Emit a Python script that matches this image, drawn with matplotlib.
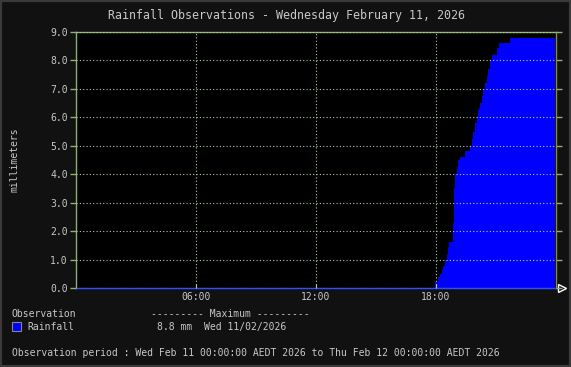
#!/usr/bin/env python3
"""Rainfall observations for one day, drawn as a cumulative step fill."""

import matplotlib
matplotlib.use("Agg")
import matplotlib.pyplot as plt
from matplotlib.patches import Rectangle

# cumulative rainfall (mm) against hour of day
hours = [0.0, 17.95, 18.12, 18.2, 18.28, 18.37, 18.45, 18.53, 18.62, 18.67,
         18.87, 18.9, 18.95, 19.03, 19.12, 19.2, 19.45, 19.7, 19.78, 19.87,
         19.95, 20.03, 20.12, 20.2, 20.28, 20.37, 20.45, 20.53, 20.62, 20.7,
         20.78, 21.03, 21.15, 21.7, 23.95]
rain = [0.0, 0.2, 0.37, 0.5, 0.63, 0.78, 0.98, 1.2, 1.43, 1.63,
        2.3, 3.5, 4.0, 4.25, 4.5, 4.6, 4.8, 5.0, 5.23, 5.5,
        5.8, 6.05, 6.3, 6.5, 6.75, 7.0, 7.22, 7.45, 7.7, 8.0,
        8.2, 8.45, 8.6, 8.8, 8.8]

x_ticks = [6, 12, 18]
x_labels = ["06:00", "12:00", "18:00"]
y_ticks = [0, 1, 2, 3, 4, 5, 6, 7, 8, 9]

title = "Rainfall Observations - Wednesday February 11, 2026"
period = ("Observation period : Wed Feb 11 00:00:00 AEDT 2026 to "
          "Thu Feb 12 00:00:00 AEDT 2026")

TXT = "#c8c8c8"
GRID = "#b0d0a0"
AXIS = "#8cb070"
MONO = "DejaVu Sans Mono"

W, H = 571, 367
fig = plt.figure(figsize=(W / 100, H / 100), dpi=100, facecolor="#111111")
fig.patches.append(Rectangle((0, 0), 1, 1, transform=fig.transFigure,
                             fill=False, edgecolor="#3a3a3a", linewidth=3))

ax = fig.add_axes([76 / W, (H - 288) / H, 480 / W, 256 / H])
ax.set_facecolor("black")
ax.fill_between(hours, rain, step="post", color="#0000ff", linewidth=0)

ax.set_xlim(0, 24)
ax.set_ylim(0, 9)
ax.set_xticks(x_ticks)
ax.set_xticklabels(x_labels)
ax.set_yticks(y_ticks)
ax.set_yticklabels([f"{v:.1f}" for v in y_ticks])
ax.grid(True, color=GRID, linestyle=(0, (1, 2)), linewidth=0.8)
ax.set_axisbelow(False)

ax.tick_params(axis="y", colors=AXIS, labelcolor=TXT, length=4, width=1,
               direction="out", right=True, labelsize=7, pad=2)
ax.tick_params(axis="x", colors=GRID, labelcolor=TXT, length=3, width=0.8,
               direction="in", labelsize=7, pad=3)
for lab in ax.get_xticklabels() + ax.get_yticklabels():
    lab.set_family(MONO)

ax.spines["left"].set_color(AXIS)
ax.spines["top"].set_color(AXIS)
ax.spines["right"].set_color("#8a8a40")
ax.spines["bottom"].set_color("#3050ff")
ax.spines["bottom"].set_linestyle((0, (1, 1)))
for s in ax.spines.values():
    s.set_linewidth(1)

# arrow head at the end of the time axis
ax.plot([1.012], [0], marker=">", markersize=6, markerfacecolor="#111111",
        markeredgecolor="white", markeredgewidth=1,
        transform=ax.transAxes, clip_on=False)

ax.set_ylabel("millimeters", color=TXT, family=MONO, fontsize=7)
ax.yaxis.set_label_coords(-56 / 480, 0.5)

def px(x, y):
    return x / W, 1 - y / H

fig.text(*px(286, 15), title, color=TXT, family=MONO, fontsize=8.4,
         ha="center", va="center")
fig.text(*px(12, 314), "Observation", color=TXT, family=MONO, fontsize=7,
         va="center")
fig.patches.append(Rectangle(px(12, 331), 9 / W, 9 / H,
                             transform=fig.transFigure, facecolor="#0000ff",
                             edgecolor="#888888", linewidth=0.8))
fig.text(*px(27, 327), "Rainfall", color=TXT, family=MONO, fontsize=7,
         va="center")
fig.text(*px(151, 314), "--------- Maximum ---------", color=TXT, family=MONO,
         fontsize=7, va="center")
fig.text(*px(157, 327), "8.8 mm  Wed 11/02/2026", color=TXT, family=MONO,
         fontsize=7, va="center")
fig.text(*px(12, 353), period, color=TXT, family=MONO, fontsize=7,
         va="center")

fig.savefig("out.png", dpi=100, facecolor=fig.get_facecolor())
